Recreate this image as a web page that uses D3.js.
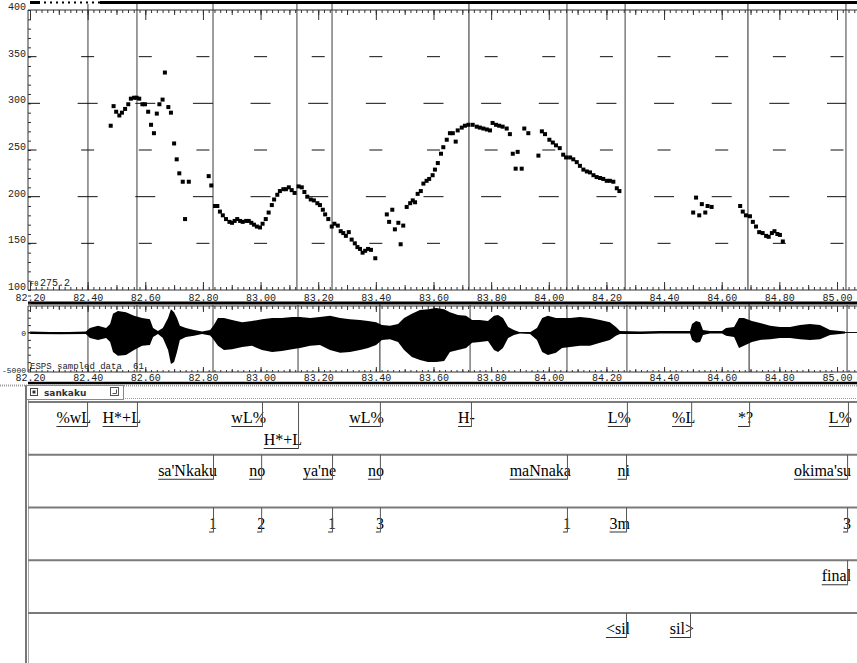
<!DOCTYPE html>
<html>
<head>
<meta charset="utf-8">
<script src="https://cdn.jsdelivr.net/npm/d3@7"></script>
<style>
body{margin:0;background:#fff;}
svg{display:block;}
.ax text{font-family:"Liberation Mono","DejaVu Sans Mono",monospace;font-size:10px;fill:#222;}
.ax path{display:none;}
.ax line{stroke:#333;}
.lab{font-family:"Liberation Serif","Times New Roman",serif;font-size:16px;fill:#000;}
</style>
</head>
<body>
<div id="chart"></div>
<script>
// F0 track (seconds, Hz)
var f0Times = [82.480,82.490,82.499,82.510,82.519,82.530,82.541,82.550,82.561,82.570,82.579,82.590,82.599,82.610,82.620,82.630,82.640,82.649,82.660,82.668,82.680,82.689,82.700,82.709,82.718,82.730,82.738,82.751,
  82.820,82.829,82.842,82.850,82.859,82.869,82.880,82.892,82.901,82.910,82.919,82.929,82.938,82.950,82.959,82.968,82.977,82.987,82.998,83.007,83.018,83.028,83.039,83.047,83.058,83.067,83.079,83.088,83.098,83.108,83.118,83.132,
  83.143,83.152,83.162,83.174,83.185,83.197,83.206,83.216,83.224,83.235,83.247,83.256,83.268,83.278,83.287,83.296,83.306,83.316,83.327,83.336,83.345,83.354,83.363,83.373,83.383,83.398,
  83.438,83.446,83.457,83.466,83.478,83.486,83.495,83.507,83.519,83.528,83.536,83.545,83.556,83.565,83.576,83.585,83.597,83.605,83.615,83.626,83.634,83.646,83.657,83.667,83.677,83.684,83.698,83.709,83.721,83.736,83.750,83.761,83.773,83.785,83.796,
  83.805,83.817,83.828,83.840,83.854,83.865,83.875,83.885,83.892,83.906,83.915,83.929,83.964,83.976,83.987,84.002,84.014,84.025,84.038,84.050,84.060,84.074,84.085,84.097,84.108,84.120,84.132,84.143,84.155,84.166,84.178,84.189,84.201,84.212,84.224,84.236,84.245,
  84.501,84.511,84.522,84.531,84.543,84.551,84.565,
  84.664,84.673,84.684,84.698,84.708,84.719,84.730,84.742,84.754,84.763,84.774,84.783,84.793,84.802,84.812];
var f0Values = [276,297,291,287,290,294,299,305,306,306,305,299,299,291,277,268,289,299,304,333,296,290,257,240,225,216,176,216,
  222,212,190,190,184,180,176,173,172,174,176,174,173,174,174,172,170,168,167,171,176,183,191,197,202,206,208,208,210,207,204,211,
  210,205,200,197,196,193,191,186,181,176,168,171,169,163,161,158,162,154,150,146,144,140,142,144,143,134,
  181,173,186,165,172,149,169,189,193,196,194,203,206,214,217,219,223,229,236,246,253,261,268,268,259,271,274,276,277,277,275,274,273,272,271,
  279,277,276,275,273,267,246,230,248,230,273,268,244,270,267,261,258,255,252,245,242,242,240,237,233,229,227,226,223,221,220,219,217,217,216,209,206,
  183,199,180,192,183,190,189,
  190,184,180,179,173,168,162,161,158,157,161,163,160,159,152];

// waveform envelope (seconds, sample units)
var waveTimes = [82.200,82.304,82.394,82.408,82.436,82.464,82.478,82.488,82.505,82.533,82.561,82.589,82.616,82.627,82.644,82.661,82.679,82.689,82.700,82.710,82.720,82.741,82.769,82.797,82.825,82.838,82.852,82.873,82.901,82.936,82.970,
  83.005,83.040,83.074,83.109,83.137,83.172,83.206,83.241,83.276,83.310,83.345,83.373,83.401,83.421,83.449,83.477,83.498,83.525,83.553,83.581,83.609,83.637,83.657,83.685,83.713,83.734,83.761,83.789,83.810,83.824,83.841,83.859,83.879,83.900,83.935,83.959,83.977,83.997,
  84.025,84.046,84.074,84.108,84.143,84.178,84.212,84.233,84.247,84.317,84.386,84.490,84.497,84.511,84.525,84.535,84.559,84.601,84.615,84.643,84.660,84.677,84.705,84.733,84.768,84.802,84.837,84.872,84.906,84.941,84.976,85.028];
var waveUpper = [150,50,150,600,900,600,1150,2550,2900,2750,2250,1950,1800,600,200,600,1950,3150,2750,1950,900,600,350,150,350,1000,1950,1950,1700,1400,1550,
  1800,1950,1950,2100,2100,1950,2100,2250,1950,1800,1700,1550,1400,1000,900,1150,1950,2550,3050,3150,3300,3150,2750,2350,2250,1700,1700,1550,2250,2350,1950,750,350,50,50,600,1950,2250,
  1950,1950,1950,2100,1950,1700,1400,750,200,150,200,200,1150,1550,1400,350,200,200,600,750,1950,1950,1550,1300,900,750,750,1000,1150,1000,350,150];
var waveLower = [-200,-250,-200,-750,-1000,-750,-1300,-2650,-3150,-3050,-2350,-1800,-1700,-600,-200,-750,-2350,-4250,-4000,-2650,-1000,-600,-450,-200,-400,-1000,-1800,-2350,-2250,-1950,-1800,
  -2350,-2650,-2500,-2250,-2100,-1800,-1700,-2350,-2750,-2650,-2350,-2100,-1700,-1000,-900,-1300,-2350,-3300,-3700,-4000,-4000,-3850,-2650,-2350,-2100,-1400,-1300,-1150,-2350,-2650,-2100,-750,-350,-150,-200,-1000,-2650,-3050,
  -2750,-2100,-1950,-1800,-1800,-1400,-1000,-450,-200,-200,-150,-150,-1000,-1400,-1300,-350,-150,-150,-450,-600,-2100,-1800,-1300,-1000,-900,-750,-750,-900,-1000,-900,-350,-150];

// axis labels
var timeTickValues = [82.2,82.4,82.6,82.8,83.0,83.2,83.4,83.6,83.8,84.0,84.2,84.4,84.6,84.8,85.0];
var timeTickLabels = ["82.20","82.40","82.60","82.80","83.00","83.20","83.40","83.60","83.80","84.00","84.20","84.40","84.60","84.80","85.00"];
var pitchTickValues = [100,150,200,250,300,350,400];
var pitchTickLabels = ["100","150","200","250","300","350","400"];
var waveTickValues = [0,-5000];
var waveTickLabels = ["0","-5000"];

// boundary markers shown in the signal windows
var pitchMarks = [82.401,82.571,82.835,83.126,83.248,84.063,84.265,85.031];
var pitchCursors = [83.723,84.691];
var waveMarks = [82.401,82.571,82.835,83.130,83.727,84.063,84.271,85.035];
var waveCursors = [83.414,84.695];

// label tiers
var toneLabels = ["%wL","H*+L","wL%","H*+L","wL%","H-","L%","%L","*?","L%"];
var toneTimes = [82.398,82.571,83.005,83.130,83.414,83.730,84.271,84.494,84.695,85.038];
var wordLabels = ["sa'Nkaku","no","ya'ne","no","maNnaka","ni","okima'su"];
var wordTimes = [82.835,83.002,83.248,83.414,84.063,84.268,85.035];
var breakLabels = ["1","2","1","3","1","3m","3"];
var breakTimes = [82.835,83.002,83.248,83.414,84.063,84.268,85.035];
var miscLabels = ["final"];
var miscTimes = [85.035];
var silLabels = ["<sil","sil>"];
var silTimes = [84.268,84.490];

function drawLabeller(){
    var W = 857, H = 663;
    var left = 28, right = 857;
    var svg = d3.select('#chart').append('svg')
    .attr('width', W)
    .attr('height', H);

    var x = d3.scaleLinear().domain([82.2, 85.0]).range([30, 837]);
    var yF = d3.scaleLinear().domain([100, 400]).range([290, 10]);
    var yW = d3.scaleLinear().domain([-5000, 5000]).range([369.5, 295.5]);

    var minorTicks = d3.range(0, 144).map(function(i){ return 82.2 + i * 0.02; });
    var midTicks = d3.range(0, 29).map(function(i){ return 82.2 + i * 0.1; });

    function hline(y, x1, x2, color, w){
        return svg.append('line').attr('x1', x1).attr('x2', x2).attr('y1', y).attr('y2', y)
        .attr('stroke', color).attr('stroke-width', w);
    }

    // ticks hanging from a time axis; dir 1 = down, -1 = up
    function timeTicks(y0, dir, sizes){
        [[minorTicks, sizes[0]], [midTicks, sizes[1]], [timeTickValues, sizes[2]]].forEach(function(l){
            var ax = (dir > 0 ? d3.axisBottom(x) : d3.axisTop(x))
            .tickValues(l[0]).tickSize(l[1]).tickSizeOuter(0).tickFormat('');
            svg.append('g').attr('class', 'ax')
            .attr('transform', 'translate(0,' + y0 + ')')
            .call(ax);
        });
        hline(y0, left, right, '#333', 1);
    }

    function timeLabels(y0){
        svg.append('g').attr('class', 'ax')
        .attr('transform', 'translate(0,' + y0 + ')')
        .call(d3.axisBottom(x).tickValues(timeTickValues).tickSize(0).tickPadding(3)
            .tickFormat(function(d, i){ return timeTickLabels[i]; }));
    }

    // window title strip at the very top
    svg.append('rect').attr('x', 100).attr('y', 1).attr('width', right - 100).attr('height', 3).attr('fill', '#000');
    svg.append('rect').attr('x', 30).attr('y', 1).attr('width', 10).attr('height', 3).attr('fill', '#000');
    svg.append('line').attr('x1', 44).attr('x2', 100).attr('y1', 2.5).attr('y2', 2.5)
    .attr('stroke', '#000').attr('stroke-width', 2).attr('stroke-dasharray', '2,4');

    // ---------- pitch window ----------
    var pitchMarksAll = pitchMarks.map(function(t){ return {t: t, c: '#7d7d7d', w: 1.5}; })
    .concat(pitchCursors.map(function(t){ return {t: t, c: '#222', w: 1}; }));
    svg.append('g').selectAll('line').data(pitchMarksAll).enter().append('line')
    .attr('x1', function(d){ return x(d.t); }).attr('x2', function(d){ return x(d.t); })
    .attr('y1', 4).attr('y2', 290)
    .attr('stroke', function(d){ return d.c; }).attr('stroke-width', function(d){ return d.w; });

    timeTicks(10, 1, [3, 5, 10]);
    timeTicks(290, -1, [3, 5, 8]);
    timeLabels(291);

    // y axis
    svg.append('line').attr('x1', left).attr('x2', left).attr('y1', 10).attr('y2', 290).attr('stroke', '#333');
    svg.append('g').attr('class', 'ax').attr('transform', 'translate(' + left + ',0)')
    .call(d3.axisRight(yF).tickValues(d3.range(100, 401, 10)).tickSize(3).tickSizeOuter(0).tickFormat(''));
    svg.append('g').attr('class', 'ax').attr('transform', 'translate(' + (left - 1) + ',0)')
    .call(d3.axisLeft(yF).tickValues(pitchTickValues).tickSize(0).tickPadding(1)
        .tickFormat(function(d, i){ return pitchTickLabels[i]; }))
    .selectAll('text').attr('dy', '-0.05em');

    // grid dashes at every major time tick
    var dashes = [];
    [150, 200, 250, 300, 350].forEach(function(f){
        timeTickValues.forEach(function(t){
            dashes.push({t: t, f: f, w: f % 100 === 0 ? 20 : 13});
        });
    });
    svg.append('g').selectAll('line').data(dashes).enter().append('line')
    .attr('x1', function(d){ return Math.max(left, x(d.t) - d.w / 2); })
    .attr('x2', function(d){ return Math.min(846, x(d.t) + d.w / 2); })
    .attr('y1', function(d){ return yF(d.f); })
    .attr('y2', function(d){ return yF(d.f); })
    .attr('stroke', '#111').attr('stroke-width', 1);

    // F0 points
    var f0 = f0Times.map(function(t, i){ return {t: t, f: f0Values[i]}; });
    svg.append('g').selectAll('rect').data(f0).enter().append('rect')
    .attr('x', function(d){ return x(d.t) - 2; })
    .attr('y', function(d){ return yF(d.f) - 2; })
    .attr('width', 4).attr('height', 4)
    .attr('fill', '#000');

    svg.append('text').attr('x', 30).attr('y', 286).attr('font-size', 7)
    .attr('font-family', 'DejaVu Sans Mono, monospace').attr('fill', '#222').text('F0');
    svg.append('text').attr('x', 40).attr('y', 286).attr('font-size', 10)
    .attr('font-family', 'Liberation Mono, monospace').attr('fill', '#222').text('275.2');

    // separator
    hline(303, left, right, '#000', 3);

    // ---------- waveform window ----------
    var waveMarksAll = waveMarks.map(function(t){ return {t: t, c: '#7d7d7d', w: 1.5}; })
    .concat(waveCursors.map(function(t){ return {t: t, c: '#222', w: 1}; }));
    svg.append('g').selectAll('line').data(waveMarksAll).enter().append('line')
    .attr('x1', function(d){ return x(d.t); }).attr('x2', function(d){ return x(d.t); })
    .attr('y1', 304).attr('y2', 372)
    .attr('stroke', function(d){ return d.c; }).attr('stroke-width', function(d){ return d.w; });

    timeTicks(306, 1, [3, 4, 6]);
    timeTicks(372, -1, [2, 3, 5]);
    timeLabels(371);

    hline(yW(0), left, right, '#111', 1);
    var env = waveTimes.map(function(t, i){ return {t: t, u: waveUpper[i], l: waveLower[i]}; });
    var area = d3.area()
    .x(function(d){ return x(d.t); })
    .y0(function(d){ return yW(d.l); })
    .y1(function(d){ return yW(d.u); });
    svg.append('path').datum(env).attr('d', area).attr('fill', '#000');

    svg.append('line').attr('x1', left).attr('x2', left).attr('y1', 306).attr('y2', 372).attr('stroke', '#333');
    svg.append('g').attr('class', 'ax').attr('transform', 'translate(' + left + ',0)')
    .call(d3.axisRight(yW).tickValues(d3.range(-5000, 5001, 1000)).tickSize(3).tickSizeOuter(0).tickFormat(''));
    svg.append('g').attr('class', 'ax').attr('transform', 'translate(' + (left - 1) + ',0)')
    .call(d3.axisLeft(yW).tickValues(waveTickValues).tickSize(0).tickPadding(1)
        .tickFormat(function(d, i){ return waveTickLabels[i]; }))
    .selectAll('text').style('font-size', '8px');

    svg.append('text').attr('x', 30).attr('y', 369).attr('font-size', 9)
    .attr('font-family', 'Liberation Mono, monospace').attr('fill', '#222').text('ESPS sampled data');
    svg.append('text').attr('x', 133).attr('y', 369).attr('font-size', 9)
    .attr('font-family', 'Liberation Mono, monospace').attr('fill', '#222').text('61');

    hline(383, left, right, '#000', 2.5);

    // ---------- label window ----------
    hline(385.5, 0, right, '#9a9a9a', 2).attr('stroke-dasharray', '1,1');
    hline(398.5, 123, right, '#9a9a9a', 1).attr('stroke-dasharray', '1,1');
    svg.append('rect').attr('x', 25.5).attr('y', 385.5).attr('width', 98).attr('height', 14)
    .attr('fill', '#fff').attr('stroke', '#888');
    svg.append('rect').attr('x', 30.5).attr('y', 388.5).attr('width', 7).attr('height', 7)
    .attr('fill', 'none').attr('stroke', '#444');
    svg.append('rect').attr('x', 32.5).attr('y', 390.5).attr('width', 3).attr('height', 3).attr('fill', '#333');
    svg.append('text').attr('x', 44).attr('y', 396).attr('font-size', 9).attr('font-weight', 'bold')
    .attr('font-family', 'DejaVu Sans, sans-serif').attr('fill', '#333').text('sankaku');
    svg.append('rect').attr('x', 110.5).attr('y', 387.5).attr('width', 8).attr('height', 8)
    .attr('fill', 'none').attr('stroke', '#555');
    svg.append('path').attr('d', 'M112.5,393.5 H116.5 V389.5').attr('fill', 'none').attr('stroke', '#555');

    svg.append('line').attr('x1', 26).attr('x2', 26).attr('y1', 386).attr('y2', H)
    .attr('stroke', '#777').attr('stroke-width', 2);
    svg.append('line').attr('x1', 28.5).attr('x2', 28.5).attr('y1', 400).attr('y2', H)
    .attr('stroke', '#aaa').attr('stroke-width', 1);

    var tiers = [
        {labels: toneLabels, times: toneTimes},
        {labels: wordLabels, times: wordTimes},
        {labels: breakLabels, times: breakTimes},
        {labels: miscLabels, times: miscTimes},
        {labels: silLabels, times: silTimes}
    ];
    var tierH = 52.75, tierTop = 402;

    tiers.forEach(function(tier, k){
        var top = tierTop + k * tierH;
        hline(top, left, right, '#7a7a7a', 2);
        var g = svg.append('g');
        var lastEnd = -1e9;
        tier.labels.forEach(function(lab, i){
            var bx = x(tier.times[i]);
            var txt = g.append('text').attr('class', 'lab')
            .attr('text-anchor', 'end')
            .attr('x', bx + 4)
            .attr('y', top + 21)
            .text(lab);
            var w = txt.node().getComputedTextLength();
            var start = bx + 4 - w;
            var row = 0;
            if(start < lastEnd + 1){
                row = 1;
                txt.attr('y', top + 43);
            }else{
                lastEnd = bx + 4;
            }
            var uy = top + (row ? 46 : 24);
            g.append('line').attr('x1', start).attr('x2', bx).attr('y1', uy + 0.5).attr('y2', uy + 0.5)
            .attr('stroke', '#333');
            g.append('line').attr('x1', bx + 0.5).attr('x2', bx + 0.5).attr('y1', top).attr('y2', uy + 1)
            .attr('stroke', '#555');
        });
    });
}

drawLabeller();
</script>
</body>
</html>
